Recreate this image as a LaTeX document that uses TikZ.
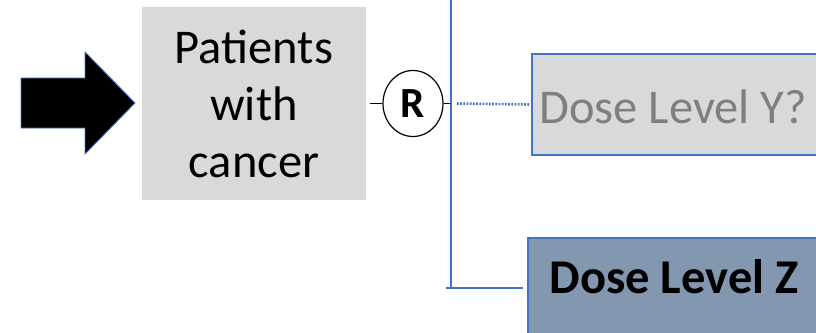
\documentclass[tikz,border=0pt]{standalone}
\usepackage{fontspec}
\setmainfont{Carlito}
\usetikzlibrary{shapes.geometric}
\definecolor{accent}{HTML}{4472C4}
\definecolor{panel}{HTML}{D9D9D9}
\definecolor{slate}{HTML}{8497B0}
\definecolor{muted}{HTML}{7F7F7F}
\begin{document}
\begin{tikzpicture}[x=1pt,y=-1pt,
  big/.style={font=\fontsize{48.5}{57}\selectfont},
  bigbold/.style={font=\fontsize{48.5}{57}\selectfont\bfseries},
  greybox/.style={fill=panel, inner sep=0pt, big},
  armedge/.style={draw=accent, line width=1.6pt},
  armtext/.style={inner sep=0pt, anchor=base},
  tick/.style={draw=black, line width=1.3pt},
  trunk/.style={draw=accent, line width=2.4pt},
  pending/.style={draw=accent, line width=2.6pt, dash pattern=on 1.7pt off 1.5pt}]
\clip (0,0) rectangle (816,332);

% block arrow feeding the population box
\filldraw[fill=black, draw=accent, line width=0.9pt]
  (21,78) -- (85,78) -- (85,52) -- (135,103) -- (85,154) -- (85,128) -- (21,128) -- cycle;

% population
\node[greybox, minimum width=224pt, minimum height=193pt, align=center] (pat) at (254,103.5)
  {Patients\\with\\cancer};

% randomisation
\node[ellipse, draw=black, line width=1.2pt, minimum width=60pt, minimum height=66pt, inner sep=0pt,
  font=\fontsize{43}{48}\selectfont\bfseries] (R) at (413,103.5) {R};

% arms: open boxes that run on past the right edge
\fill[panel] (532,54) rectangle (830,155);
\draw[armedge] (830,54) -- (532,54) -- (532,155) -- (830,155);
\coordinate (armY) at (532,104.5);
\fill[slate] (528,238) rectangle (830,340);
\draw[armedge] (830,238) -- (528,238) -- (528,340);
\coordinate (armZ) at (528,288);
\node[armtext, big, text=muted] (labY) at (673,123) {Dose Level Y?};
\node[armtext, bigbold] (labZ) at (674,293) {Dose Level Z};

% connectors
\coordinate (trunkTop) at (451,0);
\coordinate (trunkBot) at (451,288);
\draw[tick] ([xshift=4pt]pat.east) -- (R.west);
\draw[tick] (R.east) -- ([xshift=7pt]R.east);
\draw[trunk] (trunkTop) -- (trunkBot);
\draw[trunk] ([xshift=-5pt]trunkBot) -- ([xshift=-5pt]armZ);
\draw[pending] ([xshift=6pt]trunkBot |- R.east) -- ([xshift=-3pt]armY);
\end{tikzpicture}
\end{document}
